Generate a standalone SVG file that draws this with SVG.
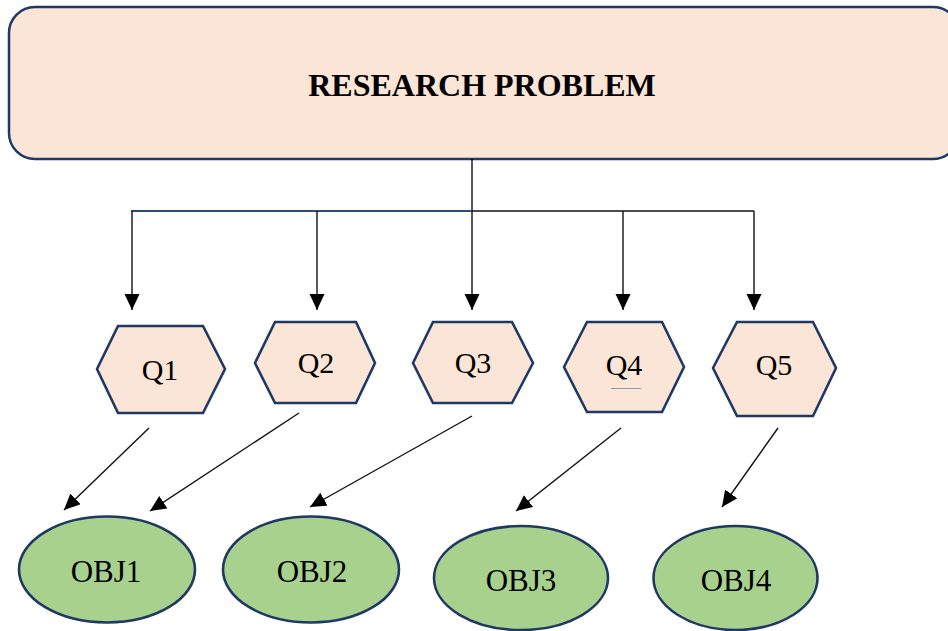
<svg xmlns="http://www.w3.org/2000/svg" width="948" height="631" viewBox="0 0 948 631">
<defs>
<style>
.hex{fill:#fbe5d6;stroke:#1f3864;stroke-width:2.6;stroke-linejoin:miter}
.ell{fill:#a9d18e;stroke:#1f3864;stroke-width:2.6}
.lbl{font-family:"Liberation Serif","Times New Roman",serif;font-size:30px;fill:#000;text-anchor:middle}
.olbl{font-size:31px}
.conn{stroke:#111;stroke-width:1.4;fill:none}
.arr{marker-end:url(#ah)}
</style>
<marker id="ah" markerUnits="userSpaceOnUse" markerWidth="17" markerHeight="16" refX="16" refY="7.5" orient="auto">
<path d="M0,0 L16,7.5 L0,15 Z" fill="#000"/>
</marker>
</defs>
<rect width="948" height="631" fill="#fff"/>
<g id="research-problem">
<rect x="9" y="7" width="950" height="152" rx="26" ry="26" fill="#fbe5d6" stroke="#1f3864" stroke-width="2.5"/>
<text x="482" y="96" font-family="Liberation Serif,'Times New Roman',serif" font-size="32" font-weight="bold" text-anchor="middle" fill="#000">RESEARCH PROBLEM</text>
</g>
<g id="connectors">
<line class="conn" x1="472" y1="159" x2="472" y2="211"/>
<line x1="131" y1="211" x2="472" y2="211" stroke="#2f4a80" stroke-width="1.8"/>
<line class="conn" x1="472" y1="211" x2="754" y2="211"/>
<line class="conn arr" x1="132" y1="211" x2="132" y2="310"/>
<line class="conn arr" x1="317" y1="211" x2="317" y2="310"/>
<line class="conn arr" x1="472" y1="211" x2="472" y2="310"/>
<line class="conn arr" x1="623" y1="211" x2="623" y2="310"/>
<line class="conn arr" x1="754" y1="211" x2="754" y2="310"/>
<line class="conn arr" x1="149" y1="428" x2="64" y2="510"/>
<line class="conn arr" x1="299" y1="413" x2="150" y2="511"/>
<line class="conn arr" x1="472" y1="416" x2="310" y2="507"/>
<line class="conn arr" x1="621" y1="428" x2="516" y2="511"/>
<line class="conn arr" x1="778" y1="428" x2="722" y2="507"/>
</g>
<g id="q1">
<polygon class="hex" points="97,369 118,326 203,326 225,369 203,413 118,413"/>
<text class="lbl" x="160" y="380">Q1</text>
</g>
<g id="q2">
<polygon class="hex" points="255,363 275,322 356,322 375,363 356,403 275,403"/>
<text class="lbl" x="316" y="373">Q2</text>
</g>
<g id="q3">
<polygon class="hex" points="413,363 433,322 512,322 533,363 512,403 433,403"/>
<text class="lbl" x="473" y="373">Q3</text>
</g>
<g id="q4">
<polygon class="hex" points="564,367 587,322 662,322 684,367 662,412 587,412"/>
<text class="lbl" x="624" y="375">Q4</text>
<line x1="611" y1="388.5" x2="641" y2="388.5" stroke="#8a9bb0" stroke-width="1"/>
</g>
<g id="q5">
<polygon class="hex" points="713,368 737,322 813,322 836,368 813,416 737,416"/>
<text class="lbl" x="774" y="375">Q5</text>
</g>
<g id="obj1">
<ellipse class="ell" cx="107" cy="569.5" rx="88" ry="53"/>
<text class="lbl olbl" x="106" y="582">OBJ1</text>
</g>
<g id="obj2">
<ellipse class="ell" cx="311" cy="569.5" rx="88" ry="53"/>
<text class="lbl olbl" x="312" y="582">OBJ2</text>
</g>
<g id="obj3">
<ellipse class="ell" cx="521" cy="578" rx="87" ry="52"/>
<text class="lbl olbl" x="521" y="591">OBJ3</text>
</g>
<g id="obj4">
<ellipse class="ell" cx="735.5" cy="578" rx="82" ry="52"/>
<text class="lbl olbl" x="736" y="591">OBJ4</text>
</g>
</svg>
